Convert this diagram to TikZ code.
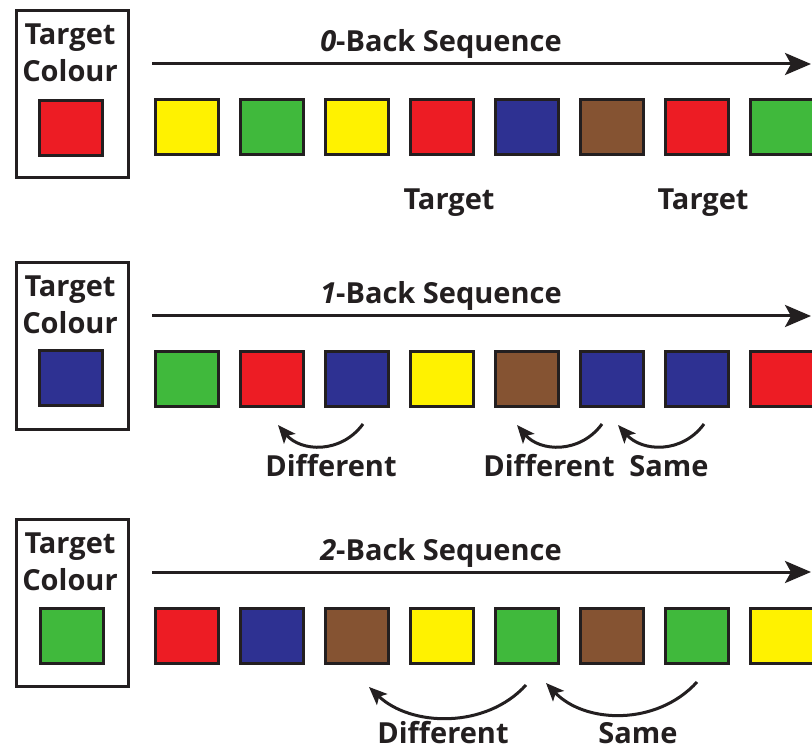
\documentclass[tikz,border=0pt]{standalone}
\usepackage{fontspec}
\setmainfont{Open Sans}
\usetikzlibrary{arrows.meta,calc}
\definecolor{ink}{HTML}{231F20}
\definecolor{cR}{HTML}{ED1C24}
\definecolor{cY}{HTML}{FFF200}
\definecolor{cG}{HTML}{40B93C}
\definecolor{cB}{HTML}{2E3192}
\definecolor{cN}{HTML}{855332}
\tikzset{
  x=1pt, y=-1pt,
  lbl/.style={font=\fontsize{29}{33}\selectfont\bfseries, text=ink, inner sep=0pt, anchor=base},
  tile/.style={draw=ink, line width=3pt, minimum width=63pt, minimum height=55pt, inner sep=0pt, anchor=north west},
  framebox/.style={draw=ink, line width=3pt, minimum width=112pt, minimum height=167pt, inner sep=0pt, anchor=north west},
  timeline/.style={draw=ink, line width=3pt, -{Stealth[length=26pt, width=22pt, inset=6pt]}},
  backarrow/.style={draw=ink, line width=3pt, -{Stealth[length=18pt, width=15pt, inset=4pt]}},
}
\newcommand{\seqrow}[4]{%
  % #1 row name, #2 vertical offset, #3 n value, #4 list of eight colours
  \node[framebox] (#1box) at (14.5,{9.5+#2}) {};
  \node[lbl] (#1t1) at (70,{45+#2}) {Target};
  \node[lbl] (#1t2) at (70,{82+#2}) {Colour};
  \coordinate (#1a0) at (152,{64+#2});
  \coordinate (#1a1) at (811,{64+#2});
  \draw[timeline] (#1a0) -- (#1a1);
  \node[lbl] (#1title) at (441,{52+#2}) {\textit{#3}-Back Sequence};
  \foreach \c [count=\i] in {#4} {
    \pgfmathsetmacro{\xx}{152+85.1*(\i-1)+1.5}
    \node[tile, fill=\c] (#1s\i) at (\xx,{98.5+#2}) {};
  }
}
\begin{document}
\begin{tikzpicture}
\clip (0,0) rectangle (812,751);
\fill[white] (0,0) rectangle (812,751);

% ---- 0-back ----
\seqrow{r}{0}{0}{cY,cG,cY,cR,cB,cN,cR,cG}
\node[tile, fill=cR] (rtarget) at (37.5,99.5) {};
\node[lbl] (rlab1) at (449,210) {Target};
\node[lbl] (rlab2) at (703,210) {Target};

% ---- 1-back ----
\seqrow{m}{252}{1}{cG,cR,cB,cY,cN,cB,cB,cR}
\node[tile, fill=cB] (mtarget) at (37.5,349.5) {};
\coordinate (mc1s) at (363,424); \coordinate (mc1t) at (278,425);
\coordinate (mc2s) at (602,424); \coordinate (mc2t) at (517,425);
\coordinate (mc3s) at (704,424); \coordinate (mc3t) at (618,425);
\draw[backarrow] (mc1s) .. controls ($(mc1s)+(-22,30)$) and ($(mc1s)+(-62,28)$) .. (mc1t);
\draw[backarrow] (mc2s) .. controls ($(mc2s)+(-22,30)$) and ($(mc2s)+(-62,28)$) .. (mc2t);
\draw[backarrow] (mc3s) .. controls ($(mc3s)+(-22,30)$) and ($(mc3s)+(-62,28)$) .. (mc3t);
\node[lbl] (mlab1) at (331,477) {Different};
\node[lbl] (mlab2) at (549,477) {Different};
\node[lbl] (mlab3) at (669,477) {Same};

% ---- 2-back ----
\seqrow{b}{508}{2}{cR,cB,cN,cY,cG,cN,cG,cY}
\node[tile, fill=cG] (btarget) at (38.5,606.5) {};
\coordinate (bc1s) at (526,685); \coordinate (bc1t) at (369,687);
\coordinate (bc2s) at (697,682); \coordinate (bc2t) at (546,683);
\draw[backarrow] (bc1s) .. controls ($(bc1s)+(-40,44)$) and ($(bc1s)+(-115,42)$) .. (bc1t);
\draw[backarrow] (bc2s) .. controls ($(bc2s)+(-40,44)$) and ($(bc2s)+(-112,42)$) .. (bc2t);
\node[lbl] (blab1) at (443,743) {Different};
\node[lbl] (blab2) at (638,743) {Same};
\end{tikzpicture}
\end{document}
